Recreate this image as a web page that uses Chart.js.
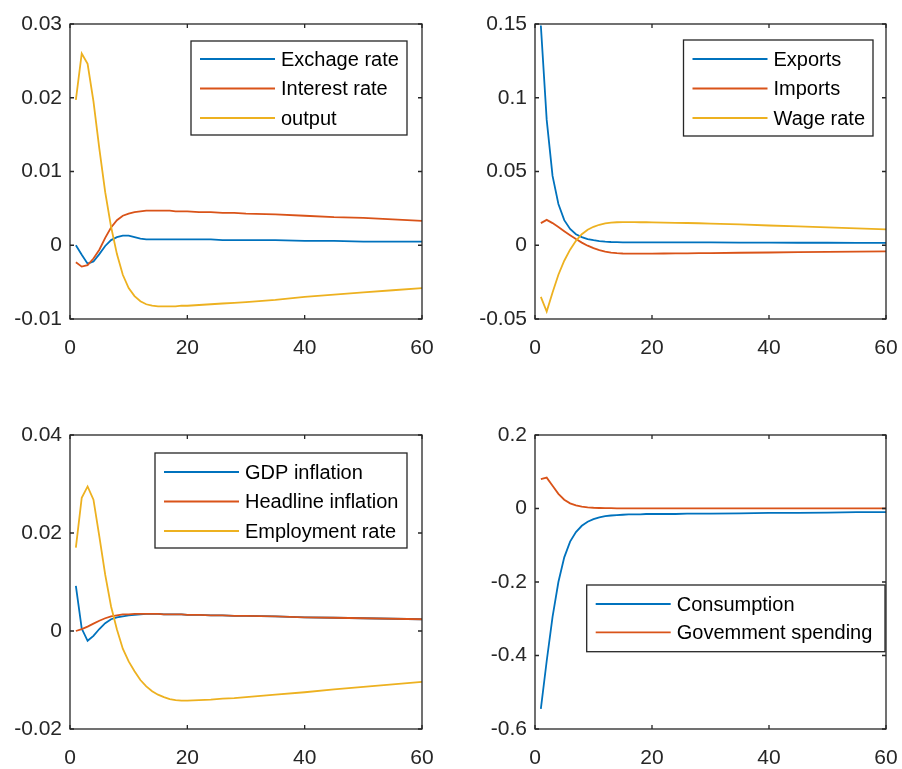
<!DOCTYPE html>
<html>
<head>
<meta charset="utf-8">
<script src="https://cdn.jsdelivr.net/npm/chart.js@4.4.0/dist/chart.umd.min.js"></script>
<style>
html, body { margin: 0; padding: 0; background: #fff; }
body { width: 902px; height: 769px; position: relative; overflow: hidden; }
canvas { position: absolute; }
</style>
</head>
<body>
<canvas id="c1" width="451" height="384" style="left:0;top:0;width:451px;height:384px"></canvas>
<canvas id="c2" width="451" height="384" style="left:451px;top:0;width:451px;height:384px"></canvas>
<canvas id="c3" width="451" height="385" style="left:0;top:384px;width:451px;height:385px"></canvas>
<canvas id="c4" width="451" height="385" style="left:451px;top:384px;width:451px;height:385px"></canvas>
<script>
// horizon (periods) - denser where the responses move, sparser on the flat tails
var periods = [1, 2, 3, 4, 5, 6, 7, 8, 9, 10, 11, 12, 13, 14, 15, 16, 17, 18, 19, 20,
               22, 24, 26, 28, 30, 35, 40, 45, 50, 55, 60];
var xTicks = [0, 20, 40, 60];

// panel 1
var exchRate = [0, -0.0013, -0.0025, -0.0022, -0.0012, -0.0001, 0.0007, 0.0011, 0.0013, 0.0013,
                0.0011, 0.0009, 0.0008, 0.0008, 0.0008, 0.0008, 0.0008, 0.0008, 0.0008, 0.0008,
                0.0008, 0.0008, 0.0007, 0.0007, 0.0007, 0.0007, 0.0006, 0.0006, 0.0005, 0.0005, 0.0005];
var interestRate = [-0.0023, -0.0029, -0.0027, -0.0018, -0.0006, 0.0010, 0.0024, 0.0034, 0.0040, 0.0043,
                    0.0045, 0.0046, 0.0047, 0.0047, 0.0047, 0.0047, 0.0047, 0.0046, 0.0046, 0.0046,
                    0.0045, 0.0045, 0.0044, 0.0044, 0.0043, 0.0042, 0.0040, 0.0038, 0.0037, 0.0035, 0.0033];
var output = [0.0197, 0.0260, 0.0246, 0.0195, 0.0131, 0.0072, 0.0025, -0.0012, -0.0040, -0.0058,
              -0.0069, -0.0076, -0.0080, -0.0082, -0.0083, -0.0083, -0.0083, -0.0083, -0.0082, -0.0082,
              -0.0081, -0.0080, -0.0079, -0.0078, -0.0077, -0.0074, -0.0070, -0.0067, -0.0064, -0.0061, -0.0058];
var yTicks1 = [-0.01, 0, 0.01, 0.02, 0.03];

// panel 2
var exports = [0.149, 0.085, 0.047, 0.028, 0.017, 0.011, 0.0075, 0.0055, 0.0042, 0.0034,
               0.0028, 0.0024, 0.0022, 0.0021, 0.0020, 0.0020, 0.0020, 0.0020, 0.0020, 0.0020,
               0.0020, 0.0019, 0.0019, 0.0019, 0.0019, 0.0018, 0.0018, 0.0017, 0.0017, 0.0016, 0.0016];
var imports = [0.0150, 0.0172, 0.0150, 0.0123, 0.0095, 0.0068, 0.0042, 0.0018, -0.0003, -0.0020,
               -0.0033, -0.0043, -0.0050, -0.0054, -0.0056, -0.0057, -0.0057, -0.0057, -0.0057, -0.0057,
               -0.0056, -0.0055, -0.0055, -0.0054, -0.0053, -0.0051, -0.0049, -0.0047, -0.0045, -0.0043, -0.0041];
var wageRate = [-0.035, -0.045, -0.032, -0.020, -0.0105, -0.0030, 0.0030, 0.0075, 0.0105, 0.0125,
                0.0139, 0.0148, 0.0153, 0.0156, 0.0157, 0.0157, 0.0157, 0.0156, 0.0156, 0.0155,
                0.0154, 0.0152, 0.0151, 0.0149, 0.0147, 0.0141, 0.0134, 0.0128, 0.0121, 0.0115, 0.0108];
var yTicks2 = [-0.05, 0, 0.05, 0.1, 0.15];

// panel 3
var gdpInflation = [0.0092, 0.0005, -0.0020, -0.0010, 0.0004, 0.0016, 0.0024, 0.0028, 0.0030, 0.0032,
                    0.0033, 0.0034, 0.0035, 0.0035, 0.0035, 0.0034, 0.0034, 0.0034, 0.0034, 0.0033,
                    0.0033, 0.0032, 0.0032, 0.0031, 0.0031, 0.0030, 0.0028, 0.0027, 0.0026, 0.0025, 0.0024];
var headlineInflation = [0.0000, 0.0004, 0.0009, 0.0015, 0.0021, 0.0026, 0.0030, 0.0032, 0.0034, 0.0034,
                         0.0035, 0.0035, 0.0035, 0.0035, 0.0035, 0.0034, 0.0034, 0.0034, 0.0034, 0.0033,
                         0.0033, 0.0032, 0.0032, 0.0031, 0.0031, 0.0030, 0.0028, 0.0027, 0.0026, 0.0025, 0.0024];
var employmentRate = [0.0170, 0.0272, 0.0295, 0.0268, 0.0193, 0.0115, 0.0050, 0.0003, -0.0036, -0.0062,
                      -0.0082, -0.0100, -0.0113, -0.0123, -0.0130, -0.0135, -0.0139, -0.0141, -0.0142, -0.0142,
                      -0.0141, -0.0140, -0.0138, -0.0137, -0.0135, -0.0130, -0.0125, -0.0119, -0.0114, -0.0109, -0.0104];
var yTicks3 = [-0.02, 0, 0.02, 0.04];

// panel 4
var consumption = [-0.545, -0.415, -0.295, -0.200, -0.133, -0.090, -0.064, -0.047, -0.036, -0.029,
                   -0.024, -0.021, -0.019, -0.018, -0.017, -0.016, -0.016, -0.016, -0.015, -0.015,
                   -0.015, -0.015, -0.014, -0.014, -0.014, -0.013, -0.012, -0.012, -0.011, -0.010, -0.010];
var govSpending = [0.080, 0.084, 0.062, 0.040, 0.024, 0.014, 0.0085, 0.0050, 0.0030, 0.0020,
                   0.0014, 0.0010, 0.0008, 0.0006, 0.0005, 0.0005, 0.0004, 0.0004, 0.0004, 0.0004,
                   0.0003, 0.0003, 0.0003, 0.0003, 0.0003, 0.0002, 0.0002, 0.0002, 0.0002, 0.0002, 0.0002];
var yTicks4 = [-0.6, -0.4, -0.2, 0, 0.2];

var BLUE = '#0072BD', ORANGE = '#D95319', YELLOW = '#EDB120';
var FONT = '"Liberation Sans", Arial, sans-serif';
var AXIS = '#262626';

function fmt(v) { return String(+(+v).toFixed(4)); }

// later series drawn on top, like matlab
function series(label, vals, color, idx) {
  return {
    label: label,
    data: periods.map(function (p, i) { return { x: p, y: vals[i] }; }),
    borderColor: color,
    borderWidth: 1.8,
    pointRadius: 0,
    tension: 0,
    fill: false,
    order: 10 - idx
  };
}

// box, inward tick marks and the legend inside the axes
var matlabBox = {
  id: 'matlabBox',
  afterDatasetsDraw: function (chart, args, opts) {
    var ctx = chart.ctx, a = chart.chartArea;
    var xs = chart.scales.x, ys = chart.scales.y;
    ctx.save();
    ctx.strokeStyle = AXIS;
    ctx.lineWidth = 1.3;
    ctx.strokeRect(a.left, a.top, a.right - a.left, a.bottom - a.top);
    ctx.beginPath();
    xs.ticks.forEach(function (t) {
      var px = xs.getPixelForValue(t.value);
      ctx.moveTo(px, a.bottom); ctx.lineTo(px, a.bottom - 4);
      ctx.moveTo(px, a.top); ctx.lineTo(px, a.top + 4);
    });
    ys.ticks.forEach(function (t) {
      var py = ys.getPixelForValue(t.value);
      ctx.moveTo(a.left, py); ctx.lineTo(a.left + 4, py);
      ctx.moveTo(a.right, py); ctx.lineTo(a.right - 4, py);
    });
    ctx.stroke();

    var b = opts.box;
    ctx.fillStyle = '#fff';
    ctx.fillRect(b.x, b.y, b.w, b.h);
    ctx.strokeStyle = AXIS;
    ctx.lineWidth = 1.3;
    ctx.strokeRect(b.x, b.y, b.w, b.h);
    ctx.font = '20px ' + FONT;
    ctx.textBaseline = 'middle';
    ctx.textAlign = 'left';
    chart.data.datasets.forEach(function (ds, i) {
      var ry = b.y + b.row0 + i * b.rowH;
      ctx.strokeStyle = ds.borderColor;
      ctx.lineWidth = 1.8;
      ctx.beginPath();
      ctx.moveTo(b.x + 9, ry); ctx.lineTo(b.x + 84, ry);
      ctx.stroke();
      ctx.fillStyle = '#000';
      ctx.fillText(ds.label, b.x + 90, ry + 1);
    });
    ctx.restore();
  }
};

function makeChart(id, datasets, yTicks, yWidth, pad, box) {
  new Chart(document.getElementById(id), {
    type: 'line',
    data: { datasets: datasets },
    options: {
      responsive: false,
      animation: false,
      layout: { padding: pad },
      plugins: {
        legend: { display: false },
        tooltip: { enabled: false },
        matlabBox: { box: box }
      },
      scales: {
        x: {
          type: 'linear',
          min: xTicks[0], max: xTicks[xTicks.length - 1],
          afterBuildTicks: function (s) { s.ticks = xTicks.map(function (v) { return { value: v }; }); },
          afterFit: function (s) { s.height = 40; },
          // invisible tick marks only push the labels down
          grid: { display: true, drawOnChartArea: false, drawTicks: true, tickLength: 13,
                  color: 'rgba(0,0,0,0)' },
          border: { display: false },
          ticks: { padding: 4, maxRotation: 0, autoSkip: false, color: AXIS,
                   font: { family: FONT, size: 21 }, callback: fmt }
        },
        y: {
          min: yTicks[0], max: yTicks[yTicks.length - 1],
          afterBuildTicks: function (s) { s.ticks = yTicks.map(function (v) { return { value: v }; }); },
          afterFit: function (s) { s.width = yWidth; },
          grid: { display: false, drawTicks: false },
          border: { display: false },
          ticks: { padding: 8, autoSkip: false, color: AXIS,
                   font: { family: FONT, size: 21 }, callback: fmt }
        }
      }
    },
    plugins: [matlabBox]
  });
}

makeChart('c1', [
  series('Exchage rate', exchRate, BLUE, 0),
  series('Interest rate', interestRate, ORANGE, 1),
  series('output', output, YELLOW, 2)
], yTicks1, 70, { top: 24, right: 29, bottom: 25, left: 0 },
  { x: 191, y: 41, w: 216, h: 94, row0: 18, rowH: 29.5 });

makeChart('c2', [
  series('Exports', exports, BLUE, 0),
  series('Imports', imports, ORANGE, 1),
  series('Wage rate', wageRate, YELLOW, 2)
], yTicks2, 84, { top: 24, right: 16, bottom: 25, left: 0 },
  { x: 232.5, y: 40, w: 189.5, h: 96, row0: 19, rowH: 29.5 });

makeChart('c3', [
  series('GDP inflation', gdpInflation, BLUE, 0),
  series('Headline inflation', headlineInflation, ORANGE, 1),
  series('Employment rate', employmentRate, YELLOW, 2)
], yTicks3, 70, { top: 51, right: 29, bottom: 0, left: 0 },
  { x: 155, y: 69, w: 252, h: 95, row0: 19, rowH: 29.5 });

makeChart('c4', [
  series('Consumption', consumption, BLUE, 0),
  series('Govemment spending', govSpending, ORANGE, 1)
], yTicks4, 84, { top: 51, right: 16, bottom: 0, left: 0 },
  { x: 135.7, y: 201, w: 298.3, h: 66.7, row0: 19, rowH: 28.3 });
</script>
</body>
</html>
